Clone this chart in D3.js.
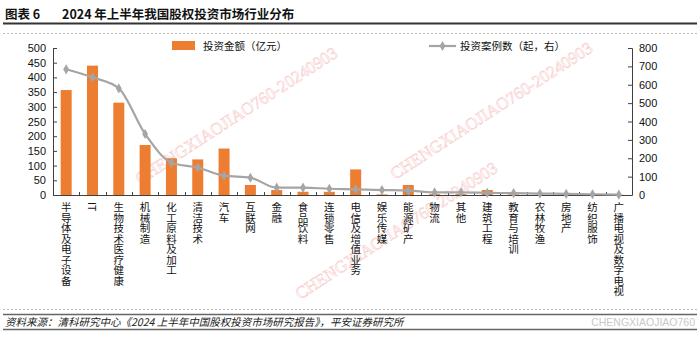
<!DOCTYPE html>
<html><head><meta charset="utf-8">
<script src="https://cdn.jsdelivr.net/npm/d3@7"></script>
<style>
body{margin:0;background:#fff;}
svg{display:block;font-family:"Liberation Sans","Noto Sans CJK SC",sans-serif;}
.cjk{font-family:"Noto Sans CJK SC","Liberation Sans",sans-serif;}
</style></head>
<body><svg id="c" width="700" height="337"></svg>
<script>
const categories = ["半导体及电子设备","IT","生物技术医疗健康","机械制造","化工原料及加工","清洁技术","汽车","互联网","金融","食品饮料","连锁零售","电信及增值业务","娱乐传媒","能源矿产","物流","其他","建筑工程","教育与培训","农林牧渔","房地产","纺织服饰","广播电视及数字电视"];
const amount = [357,440,314,170,125,121,158,34,17,11,11,87,2,34,3,3,17,2,1,1,1,0.5];
const cases  = [684,640,580,332,176,149,105,94,40,40,34,31,27,24,14,14,12,10,8,6,4,2];
const leftTicks = [0,50,100,150,200,250,300,350,400,450,500];
const rightTicks = [0,100,200,300,400,500,600,700,800];
const title1 = "图表 6";
const title2 = "2024 年上半年我国股权投资市场行业分布";
const source = "资料来源：清科研究中心《2024 上半年中国股权投资市场研究报告》，平安证券研究所";
const legendBar = "投资金额（亿元）";
const legendLine = "投资案例数（起，右）";

const svg = d3.select("#c");
const axisColor = "#404040";
const x0 = 53, x1 = 632, yTop = 48, yBot = 195;

// Watermarks (drawn first, beneath)
const wm = "CHENGXIAOJIAO760-20240903";
[[140,185],[395,180],[300,300]].forEach(([wx,wy])=>{
  svg.append("text").attr("transform",`translate(${wx},${wy}) rotate(-33)`).attr("font-family","Liberation Serif, serif")
   .attr("font-size",17).attr("fill","none").attr("stroke","#f2a6a6").attr("stroke-width",0.6).attr("opacity",0.55).text(wm);
});

// Header
svg.append("text").attr("class","cjk").attr("x",5).attr("y",19).attr("font-size",12.5).attr("font-weight","bold").attr("fill","#111").text(title1);
svg.append("text").attr("class","cjk").attr("x",62).attr("y",19).attr("font-size",12.5).attr("font-weight","bold").attr("fill","#111").text(title2);
svg.append("line").attr("x1",3).attr("x2",697).attr("y1",23.5).attr("y2",23.5).attr("stroke","#333").attr("stroke-width",2);
svg.append("line").attr("x1",3).attr("x2",697).attr("y1",33.5).attr("y2",33.5).attr("stroke","#bbb").attr("stroke-width",1).attr("stroke-dasharray","2,2");

// Footer
svg.append("line").attr("x1",3).attr("x2",697).attr("y1",309.5).attr("y2",309.5).attr("stroke","#bbb").attr("stroke-dasharray","2,2");
svg.append("line").attr("x1",3).attr("x2",697).attr("y1",314.5).attr("y2",314.5).attr("stroke","#666").attr("stroke-width",1.5);
svg.append("line").attr("x1",3).attr("x2",697).attr("y1",329.5).attr("y2",329.5).attr("stroke","#666").attr("stroke-width",1.5);
svg.append("text").attr("class","cjk").attr("x",5).attr("y",326).attr("font-size",10.5).attr("font-style","italic").attr("fill","#222").text(source);
svg.append("text").attr("x",695).attr("y",326).attr("text-anchor","end").attr("font-size",10.5).attr("fill","#c8c8c8").text("CHENGXIAOJIAO760");

// Scales
const xc = d3.scaleBand().domain(categories).range([x0,x1]);
const yL = d3.scaleLinear().domain([0,500]).range([yBot,yTop]);
const yR = d3.scaleLinear().domain([0,800]).range([yBot,yTop]);

// Bars
svg.append("g").selectAll("rect").data(categories).join("rect")
  .attr("x",d=>xc(d)+xc.bandwidth()/2-5.5)
  .attr("width",11)
  .attr("y",(d,i)=>yL(amount[i]))
  .attr("height",(d,i)=>yBot-yL(amount[i]))
  .attr("fill","#ED7D31");

// Axes
const gL = svg.append("g").attr("transform",`translate(${x0},0)`)
  .call(d3.axisLeft(yL).tickValues(leftTicks).tickSize(-4).tickPadding(7));
const gR = svg.append("g").attr("transform",`translate(${x1},0)`)
  .call(d3.axisRight(yR).tickValues(rightTicks).tickSize(-4).tickPadding(7));
[gL,gR].forEach(g=>{
  g.select(".domain").attr("stroke",axisColor);
  g.selectAll(".tick line").attr("stroke",axisColor);
  g.selectAll("text").attr("font-size",11).attr("fill","#111").attr("font-family","Liberation Sans, sans-serif");
});
// bottom axis
svg.append("line").attr("x1",x0).attr("x2",x1).attr("y1",yBot+0.5).attr("y2",yBot+0.5).attr("stroke",axisColor);
svg.append("g").selectAll("line").data(categories.slice(1)).join("line")
  .attr("x1",d=>Math.round(xc(d))+0.5).attr("x2",d=>Math.round(xc(d))+0.5)
  .attr("y1",yBot).attr("y2",yBot-3).attr("stroke",axisColor);

// Line
const line = d3.line().x((d,i)=>xc(categories[i])+xc.bandwidth()/2).y(d=>yR(d)).curve(d3.curveMonotoneX);
svg.append("path").datum(cases).attr("d",line).attr("fill","none").attr("stroke","#A5A5A5").attr("stroke-width",2.2);
const diamond = d3.symbol().type(d3.symbolDiamond).size(30);
svg.append("g").selectAll("path").data(cases).join("path")
  .attr("transform",(d,i)=>`translate(${xc(categories[i])+xc.bandwidth()/2},${yR(d)})`)
  .attr("d",diamond).attr("fill","#A5A5A5");

// Category labels (vertical)
svg.append("g").selectAll("text").data(categories).join("text")
  .attr("class","cjk")
  .attr("x",d=>xc(d)+xc.bandwidth()/2)
  .attr("y",202)
  .attr("font-size",10.5)
  .attr("fill","#111")
  .style("writing-mode","vertical-rl")
  .text(d=>d);

// Legend
svg.append("rect").attr("x",172).attr("y",41).attr("width",23).attr("height",9).attr("fill","#ED7D31");
svg.append("text").attr("class","cjk").attr("x",203).attr("y",50).attr("font-size",10.5).attr("fill","#111").text(legendBar);
svg.append("line").attr("x1",429).attr("x2",456).attr("y1",46).attr("y2",46).attr("stroke","#A5A5A5").attr("stroke-width",2.2);
svg.append("path").attr("transform","translate(442.5,46)").attr("d",diamond).attr("fill","#A5A5A5");
svg.append("text").attr("class","cjk").attr("x",460).attr("y",50).attr("font-size",10.5).attr("fill","#111").text(legendLine);
</script></body></html>
